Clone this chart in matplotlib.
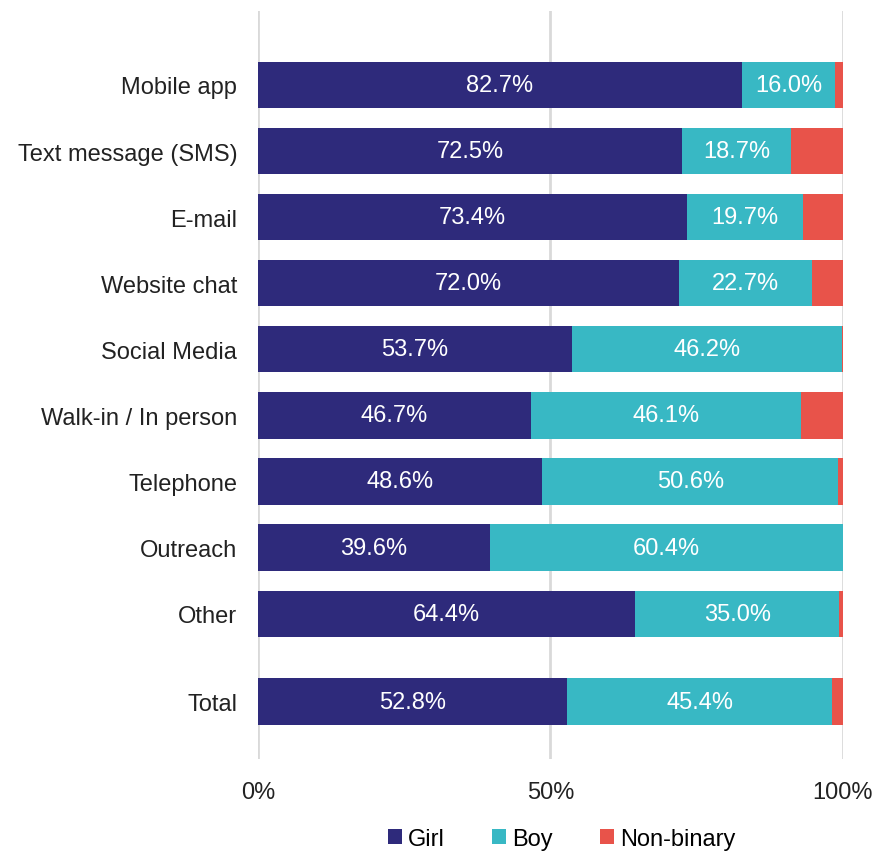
import matplotlib.pyplot as plt
import numpy as np

plt.rcParams["font.family"] = ["Liberation Sans", "DejaVu Sans"]

categories = ["Mobile app", "Text message (SMS)", "E-mail", "Website chat",
              "Social Media", "Walk-in / In person", "Telephone", "Outreach",
              "Other", "Total"]
girl = [82.7, 72.5, 73.4, 72.0, 53.7, 46.7, 48.6, 39.6, 64.4, 52.8]
boy = [16.0, 18.7, 19.7, 22.7, 46.2, 46.1, 50.6, 60.4, 35.0, 45.4]
nonbinary = [1.3, 8.8, 6.9, 5.3, 0.1, 7.2, 0.8, 0.0, 0.6, 1.8]

c_girl = "#2e2a7b"
c_boy = "#38b8c4"
c_nb = "#e8534a"

# extra gap before Total
ypos = np.array([0, 1, 2, 3, 4, 5, 6, 7, 8, 9.33])
h = 0.70

fig = plt.figure(figsize=(8.77, 8.54), dpi=100)
ax = fig.add_axes([0.2942, 0.110, 0.6670, 0.876])

girl = np.array(girl)
boy = np.array(boy)
nonbinary = np.array(nonbinary)

ax.barh(ypos, girl, height=h, color=c_girl, label="Girl", zorder=3)
ax.barh(ypos, boy, left=girl, height=h, color=c_boy, label="Boy", zorder=3)
ax.barh(ypos, nonbinary, left=girl + boy, height=h, color=c_nb,
        label="Non-binary", zorder=3)

for y, g, b in zip(ypos, girl, boy):
    ax.text(g / 2, y, f"{g:.1f}%", color="white", ha="center", va="center",
            fontsize=17, zorder=4)
    ax.text(g + b / 2, y, f"{b:.1f}%", color="white", ha="center",
            va="center", fontsize=17, zorder=4)

ax.set_xlim(0, 100)
ax.set_ylim(10.2, -1.12)
ax.set_yticks(ypos)
ax.set_yticklabels(categories, fontsize=17, color="#222222")
ax.set_xticks([0, 50, 100])
ax.set_xticklabels(["0%", "50%", "100%"], fontsize=17, color="#222222")
ax.tick_params(length=0)
ax.tick_params(axis="y", pad=15)
ax.tick_params(axis="x", pad=16)
for s in ax.spines.values():
    s.set_visible(False)
ax.grid(axis="x", color="#d9d9d9", linewidth=2, zorder=0)

leg = fig.legend(loc="center", bbox_to_anchor=(0.64, 1 - 840 / 854), ncol=3,
                 frameon=False, fontsize=17, handlelength=0.6,
                 handleheight=0.6, handletextpad=0.25, columnspacing=2.0)

fig.savefig("out.png", dpi=100)
